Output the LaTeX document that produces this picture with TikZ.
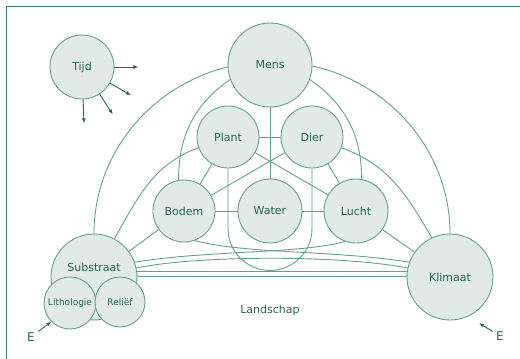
\documentclass[tikz,border=0pt]{standalone}
\usepackage{fontspec}
\newfontfamily\dejavu{DejaVu Sans}
\usetikzlibrary{positioning,arrows.meta,calc,backgrounds}
\definecolor{lijnkleur}{RGB}{100,160,140}
\definecolor{vulkleur}{RGB}{226,234,231}
\definecolor{tekstkleur}{RGB}{40,100,85}
\definecolor{kaderkleur}{RGB}{55,125,105}

\begin{document}
\begin{tikzpicture}[x=1pt, y=1pt,
  bol/.style={circle, draw=lijnkleur, fill=vulkleur, line width=0.9pt,
    inner sep=0pt, text=tekstkleur, font=\dejavu\fontsize{11}{12}\selectfont},
  kleinebol/.style={bol, font=\dejavu\fontsize{9}{10}\selectfont},
  lijn/.style={draw=lijnkleur, line width=0.9pt},
  pijl/.style={tekstkleur, line width=0.9pt, -{Latex[length=5pt,width=4pt]}},
  opschrift/.style={text=tekstkleur, font=\dejavu\fontsize{11}{12}\selectfont},
]
  \useasboundingbox (0,0) rectangle (520,-359);
  % Kader
  \draw[kaderkleur, line width=1.6pt] (6.5,-359) -- (6.5,-6.5) -- (520,-6.5);
  % Bollen
  \node[bol, minimum size=64pt] (tijd) at (82,-67) {Tijd};
  \node[bol, minimum size=84pt] (mens) at (270,-65) {Mens};
  \node[bol, minimum size=62pt] (plant) at (228,-137) {Plant};
  \node[bol, minimum size=62pt] (dier) at (312,-137) {Dier};
  \node[bol, minimum size=62pt] (bodem) at (184,-211) {Bodem};
  \node[bol, minimum size=64pt] (water) at (270,-211) {Water};
  \node[bol, minimum size=64pt] (lucht) at (356,-211) {Lucht};
  \node[bol, minimum size=86pt,
    label={[opschrift, yshift=10pt]center:Substraat}] (sub) at (94,-277) {};
  \node[kleinebol, minimum size=52pt] (litho) at (70,-303) {Lithologie};
  \node[kleinebol, minimum size=50pt] (relief) at (120,-302) {Reliëf};
  \node[bol, minimum size=86pt] (klimaat) at (450,-277) {Klimaat};
  % Teksten
  \node[opschrift] (landschap) at (270,-310) {Landschap};
  \node[opschrift, font=\dejavu\fontsize{12}{12}\selectfont] (elinks) at (31,-337) {E};
  \node[opschrift, font=\dejavu\fontsize{12}{12}\selectfont] (erechts) at (500,-336) {E};
  \coordinate (kpunt) at (479,-323);
  % Pijlen
  \foreach \hoek in {0,-30,-57,-88}
    \draw[pijl] (tijd.\hoek) -- ++(\hoek:24);
  \draw[pijl] (elinks) -- (litho.225);
  \draw[pijl] (erechts) -- (kpunt);
  % Verbindingen
  \begin{scope}[on background layer]
    \draw[lijn] (sub.north) arc[start angle=180, end angle=0,
      x radius=178, y radius=172];
    \draw[lijn] (mens.200) to[out=215,in=90] (bodem.100);
    \draw[lijn] (mens.-20) to[out=-35,in=90] (lucht.80);
    \draw[lijn] (sub.62) to[out=60,in=200] (plant.200);
    \draw[lijn] (klimaat.115) to[out=120,in=-20] (dier.-20);
    \draw[lijn] (plant) -- (dier);
    \draw[lijn] (bodem) -- (water) -- (lucht);
    \draw[lijn] (mens) -- (water);
    \draw[lijn] (plant) -- (lucht);
    \draw[lijn] (dier) -- (bodem);
    \draw[lijn] (plant) -- (bodem);
    \draw[lijn] (dier) -- (lucht);
    \draw[lijn] (sub) -- (bodem);
    \draw[lijn] (klimaat) -- (lucht);
    % Boog om Water
    \draw[lijn] (plant.south) -- ++(0,-60)
      arc[start angle=180, end angle=360, radius=42] -- (dier.south);
    % Onderlijnen
    \draw[lijn] ([yshift=6pt]sub.center) -- ([yshift=6pt]klimaat.center);
    \draw[lijn] ([yshift=1pt]sub.center) -- ([yshift=1pt]klimaat.center);
    \draw[lijn] (sub.12) .. controls (200,-255) and (340,-255) .. (klimaat.168);
    \draw[lijn] (sub.20) .. controls (210,-250) and (300,-254) .. (lucht.250);
    \draw[lijn] (klimaat.160) .. controls (334,-250) and (244,-254) .. (bodem.290);
  \end{scope}
\end{tikzpicture}
\end{document}
